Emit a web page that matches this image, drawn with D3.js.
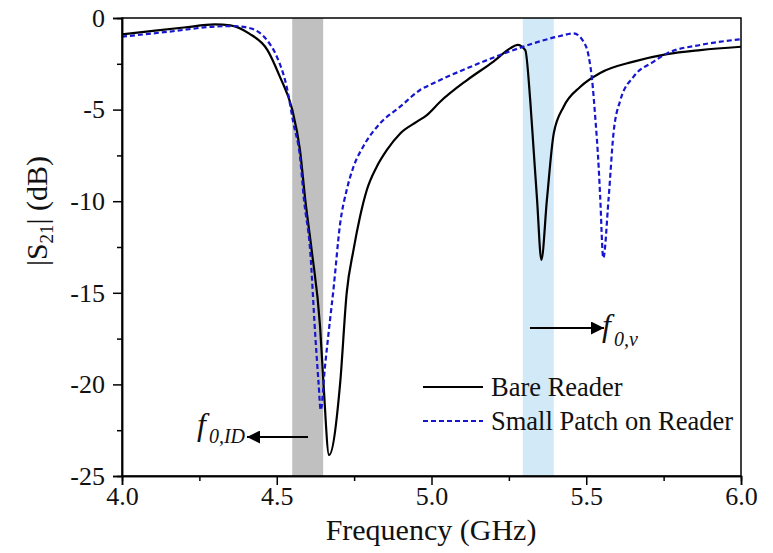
<!DOCTYPE html>
<html>
<head>
<meta charset="utf-8">
<script src="https://cdn.jsdelivr.net/npm/d3@7"></script>
<style>
  body { margin: 0; background: #fff; }
</style>
</head>
<body>
<svg id="chart" width="773" height="553"></svg>
<script>
// Bare Reader (black, solid)
const freqBare = [4.00, 4.10, 4.20, 4.30, 4.35, 4.41, 4.47, 4.51, 4.55, 4.575, 4.592, 4.613, 4.640, 4.651, 4.669,
  4.705, 4.726, 4.748, 4.769, 4.791, 4.823, 4.856, 4.899, 4.953, 4.985, 5.028, 5.114, 5.20, 5.254, 5.278, 5.303,
  5.319, 5.330, 5.341, 5.355, 5.373, 5.395, 5.427, 5.481, 5.545, 5.653, 5.761, 5.869, 6.00];
const s21Bare = [-0.89, -0.70, -0.52, -0.35, -0.40, -0.84, -1.75, -3.2, -5.0, -7.2, -9.9, -12.7, -16.85, -19.94, -23.85,
  -19.9, -15.0, -12.66, -10.85, -9.39, -8.12, -7.2, -6.3, -5.66, -5.3, -4.57, -3.4, -2.38, -1.66, -1.47, -1.75,
  -4.5, -7.2, -9.9, -13.2, -9.9, -6.3, -4.84, -3.75, -3.0, -2.38, -1.97, -1.75, -1.57];

// Small Patch on Reader (blue, dashed)
const freqPatch = [4.00, 4.15, 4.30, 4.36, 4.414, 4.468, 4.50, 4.532, 4.554, 4.575, 4.588, 4.608, 4.624, 4.635, 4.642,
  4.656, 4.672, 4.683, 4.705, 4.726, 4.748, 4.78, 4.834, 4.899, 4.963, 5.006, 5.114, 5.222, 5.33, 5.416, 5.459,
  5.491, 5.508, 5.519, 5.529, 5.540, 5.545, 5.555, 5.572, 5.588, 5.61, 5.653, 5.718, 5.761, 5.869, 6.00];
const s21Patch = [-1.02, -0.75, -0.47, -0.44, -0.56, -1.2, -2.1, -3.75, -5.75, -7.57, -9.93, -12.7, -17.2, -19.9, -21.4,
  -19.0, -16.5, -14.85, -11.2, -9.39, -8.12, -7.0, -5.75, -4.84, -3.93, -3.56, -2.75, -2.02, -1.38, -0.98, -0.84,
  -1.29, -2.1, -3.4, -5.4, -8.1, -9.75, -13.1, -9.9, -6.3, -4.5, -3.2, -2.38, -1.93, -1.47, -1.16];

// shaded bands [start, end] in GHz
const bandId = [4.55, 4.65];
const bandV = [5.295, 5.395];

const xTicks = [4.0, 4.5, 5.0, 5.5, 6.0];
const xMinorTicks = [4.25, 4.75, 5.25, 5.75];
const yTicks = [0, -5, -10, -15, -20, -25];
const yMinorTicks = [-2.5, -7.5, -12.5, -17.5, -22.5];

const FONT = '"Liberation Serif", "Times New Roman", "DejaVu Serif", serif';
const BLUE = '#1616d0';

const svg = d3.select('#chart').attr('font-family', FONT);
const margin = { top: 18, right: 32, bottom: 77, left: 122 };
const W = 773 - margin.left - margin.right;
const H = 553 - margin.top - margin.bottom;

const g = svg.append('g').attr('transform', `translate(${margin.left},${margin.top})`);

const x = d3.scaleLinear().domain([4, 6]).range([0, W]);
const y = d3.scaleLinear().domain([-25, 0]).range([H, 0]);

// bands
g.append('rect')
  .attr('x', x(bandId[0])).attr('width', x(bandId[1]) - x(bandId[0]))
  .attr('y', 0).attr('height', H)
  .attr('fill', '#c0c0c0');
g.append('rect')
  .attr('x', x(bandV[0])).attr('width', x(bandV[1]) - x(bandV[0]))
  .attr('y', 0).attr('height', H)
  .attr('fill', '#d2e9f8');

// lines
const line = (xs, ys) => d3.line()
  .x((d, i) => x(xs[i]))
  .y((d, i) => y(ys[i]))
  .curve(d3.curveMonotoneX)(xs);

g.append('path')
  .attr('d', line(freqBare, s21Bare))
  .attr('fill', 'none')
  .attr('stroke', '#000')
  .attr('stroke-width', 2.2);

g.append('path')
  .attr('d', line(freqPatch, s21Patch))
  .attr('fill', 'none')
  .attr('stroke', BLUE)
  .attr('stroke-width', 2.2)
  .attr('stroke-dasharray', '5,3');

// frame
g.append('rect')
  .attr('x', 0).attr('y', 0).attr('width', W).attr('height', H)
  .attr('fill', 'none').attr('stroke', '#000').attr('stroke-width', 1.5);

// axes
const xAxis = d3.axisBottom(x).tickValues(xTicks).tickFormat(d3.format('.1f')).tickSize(9).tickPadding(2);
const xMinor = d3.axisBottom(x).tickValues(xMinorTicks).tickFormat('').tickSize(5);
const yAxis = d3.axisLeft(y).tickValues(yTicks).tickFormat(d => d === 0 ? '0' : '-' + Math.abs(d)).tickSize(9).tickPadding(8);
const yMinor = d3.axisLeft(y).tickValues(yMinorTicks).tickFormat('').tickSize(5);

function styleAxis(sel) {
  sel.attr('font-family', FONT);
  sel.select('.domain').attr('stroke-width', 1.5);
  sel.selectAll('.tick line').attr('stroke-width', 1.5);
  sel.selectAll('text').attr('font-size', 26).attr('fill', '#111');
}

g.append('g').attr('transform', `translate(0,${H})`).call(xAxis).call(styleAxis);
g.append('g').attr('transform', `translate(0,${H})`).call(xMinor).call(styleAxis);
g.append('g').call(yAxis).call(styleAxis);
g.append('g').call(yMinor).call(styleAxis);

// axis titles
svg.append('text')
  .attr('x', 431).attr('y', 540)
  .attr('text-anchor', 'middle')
  .attr('font-size', 30).attr('fill', '#111')
  .text('Frequency (GHz)');

const yl = svg.append('text')
  .attr('transform', 'translate(47,211) rotate(-90)')
  .attr('text-anchor', 'middle')
  .attr('font-size', 30).attr('fill', '#111');
yl.append('tspan').text('|S');
yl.append('tspan').attr('font-size', 19).attr('dy', 6).text('21');
yl.append('tspan').attr('dy', -6).text('| (dB)');

// legend
const legendItems = [
  { label: 'Bare Reader', color: '#000', dash: null, yy: 387 },
  { label: 'Small Patch on Reader', color: BLUE, dash: '5,3', yy: 421 }
];
const legend = svg.append('g').attr('transform', 'translate(423,0)');
legendItems.forEach(d => {
  legend.append('line')
    .attr('x1', 0).attr('x2', 60)
    .attr('y1', d.yy).attr('y2', d.yy)
    .attr('stroke', d.color).attr('stroke-width', 2.2)
    .attr('stroke-dasharray', d.dash);
  legend.append('text')
    .attr('x', 68).attr('y', d.yy + 9)
    .attr('font-size', 26.5).attr('fill', '#111')
    .text(d.label);
});

// annotations
svg.append('defs').append('marker')
  .attr('id', 'arrow').attr('viewBox', '0 0 10 10')
  .attr('refX', 10).attr('refY', 5)
  .attr('markerWidth', 6.5).attr('markerHeight', 6.5)
  .attr('orient', 'auto')
  .append('path').attr('d', 'M0,0 L10,5 L0,10 z').attr('fill', '#000');

svg.append('line')
  .attr('x1', 530).attr('y1', 328).attr('x2', 604).attr('y2', 328)
  .attr('stroke', '#000').attr('stroke-width', 2)
  .attr('marker-end', 'url(#arrow)');
const fv = svg.append('text')
  .attr('x', 602).attr('y', 336)
  .attr('font-size', 32).attr('font-style', 'italic').attr('fill', '#111');
fv.append('tspan').text('f');
fv.append('tspan').attr('font-size', 20).attr('dy', 10).attr('dx', 3).text('0,v');

svg.append('line')
  .attr('x1', 308).attr('y1', 437).attr('x2', 247).attr('y2', 437)
  .attr('stroke', '#000').attr('stroke-width', 2)
  .attr('marker-end', 'url(#arrow)');
const fid = svg.append('text')
  .attr('x', 197).attr('y', 435)
  .attr('font-size', 32).attr('font-style', 'italic').attr('fill', '#111');
fid.append('tspan').text('f');
fid.append('tspan').attr('font-size', 20).attr('dy', 8).attr('dx', 3).text('0,ID');
</script>
</body>
</html>
